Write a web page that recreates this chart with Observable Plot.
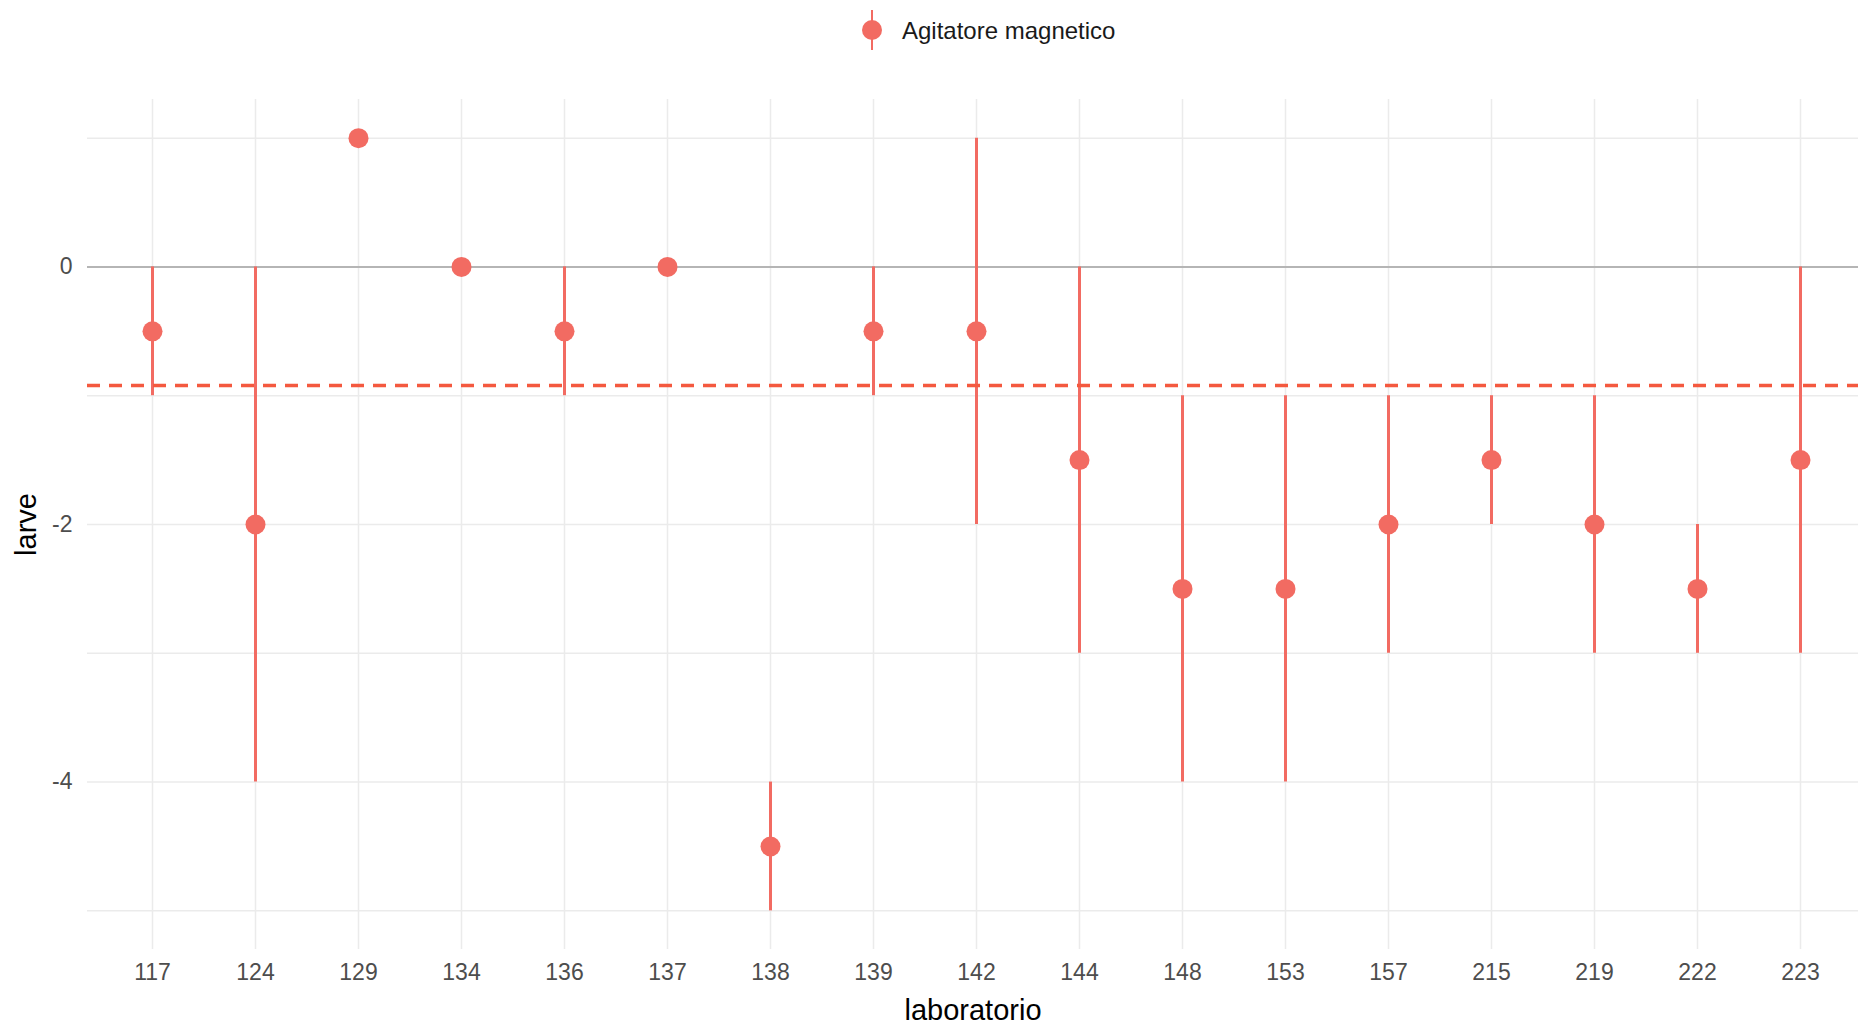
<!DOCTYPE html>
<html>
<head>
<meta charset="utf-8">
<script src="https://cdn.jsdelivr.net/npm/d3@7"></script>
<script src="https://cdn.jsdelivr.net/npm/@observablehq/plot@0.6"></script>
<style>
  html, body { margin: 0; padding: 0; background: #fff; }
  body { width: 1858px; height: 1026px; overflow: hidden; font-family: "Liberation Sans", Arial, sans-serif; }
  #legend { position: relative; height: 60px; }
  #legend .glyph { position: absolute; left: 862px; top: 10px; width: 20px; height: 40px; }
  #legend .glyph .ln { position: absolute; left: 9px; top: 0; width: 2px; height: 40px; background: #f26b62; }
  #legend .glyph .dt { position: absolute; left: 0; top: 10px; width: 20px; height: 20px; border-radius: 50%; background: #f26b62; }
  #legend .lbl { position: absolute; left: 902px; top: 16px; font-size: 24px; line-height: 30px; color: #1a1a1a; }
</style>
</head>
<body>
<div id="legend"><div class="glyph"><div class="ln"></div><div class="dt"></div></div><div class="lbl">Agitatore magnetico</div></div>
<div id="chart"></div>
<script>
const labs   = ["117","124","129","134","136","137","138","139","142","144","148","153","157","215","219","222","223"];
const values = [-0.5, -2, 1, 0, -0.5, 0, -4.5, -0.5, -0.5, -1.5, -2.5, -2.5, -2, -1.5, -2, -2.5, -1.5];
const lower  = [-1, -4, 1, 0, -1, 0, -5, -1, -2, -3, -4, -4, -3, -2, -3, -3, -3];
const upper  = [0, 0, 1, 0, 0, 0, -4, 0, 1, 0, -1, -1, -1, -1, -1, -2, 0];
const meanLine = [-0.92];
const yTicks = [0, -2, -4];
const gridY = [1, 0, -1, -2, -3, -4, -5];

const color = "#f26b62";
const data = labs.map((l, i) => ({lab: l, v: values[i], lo: lower[i], hi: upper[i]}));

const chart = Plot.plot({
  width: 1858,
  height: 966,
  marginTop: 39,
  marginBottom: 77,
  marginLeft: 87,
  marginRight: 0,
  style: {fontFamily: "Liberation Sans, Arial, sans-serif", background: "#fff"},
  x: {type: "point", domain: labs, range: [149, 1803], padding: 0},
  y: {domain: [-5.3, 1.3]},
  marks: [
    Plot.ruleY(gridY, {stroke: "#ebebeb", strokeWidth: 1.5}),
    Plot.ruleX(labs, {x: d => d, stroke: "#ebebeb", strokeWidth: 1.5}),
    Plot.ruleY([0], {stroke: "#b5b5b5", strokeWidth: 2}),
    Plot.ruleX(data.filter(d => d.lo !== d.hi), {x: "lab", y1: "lo", y2: "hi", stroke: color, strokeWidth: 3}),
    Plot.ruleY(meanLine, {stroke: "#f4593f", strokeWidth: 3.5, strokeDasharray: "13,9"}),
    Plot.dot(data, {x: "lab", y: "v", r: 10, fill: color}),
    Plot.axisX({tickSize: 0, tickPadding: 14, fontSize: 23, label: null, color: "#4d4d4d"}),
    Plot.axisY({ticks: yTicks, tickSize: 0, tickPadding: 15, fontSize: 23, label: null, tickFormat: d => String(d), color: "#4d4d4d"}),
    Plot.text(["laboratorio"], {frameAnchor: "bottom", dy: 70, fontSize: 29, fill: "#000", text: d => d}),
    Plot.text(["larve"], {frameAnchor: "left", dx: -61, rotate: -90, textAnchor: "middle", fontSize: 29, fill: "#000", text: d => d})
  ]
});
document.getElementById("chart").appendChild(chart);
</script>
</body>
</html>
